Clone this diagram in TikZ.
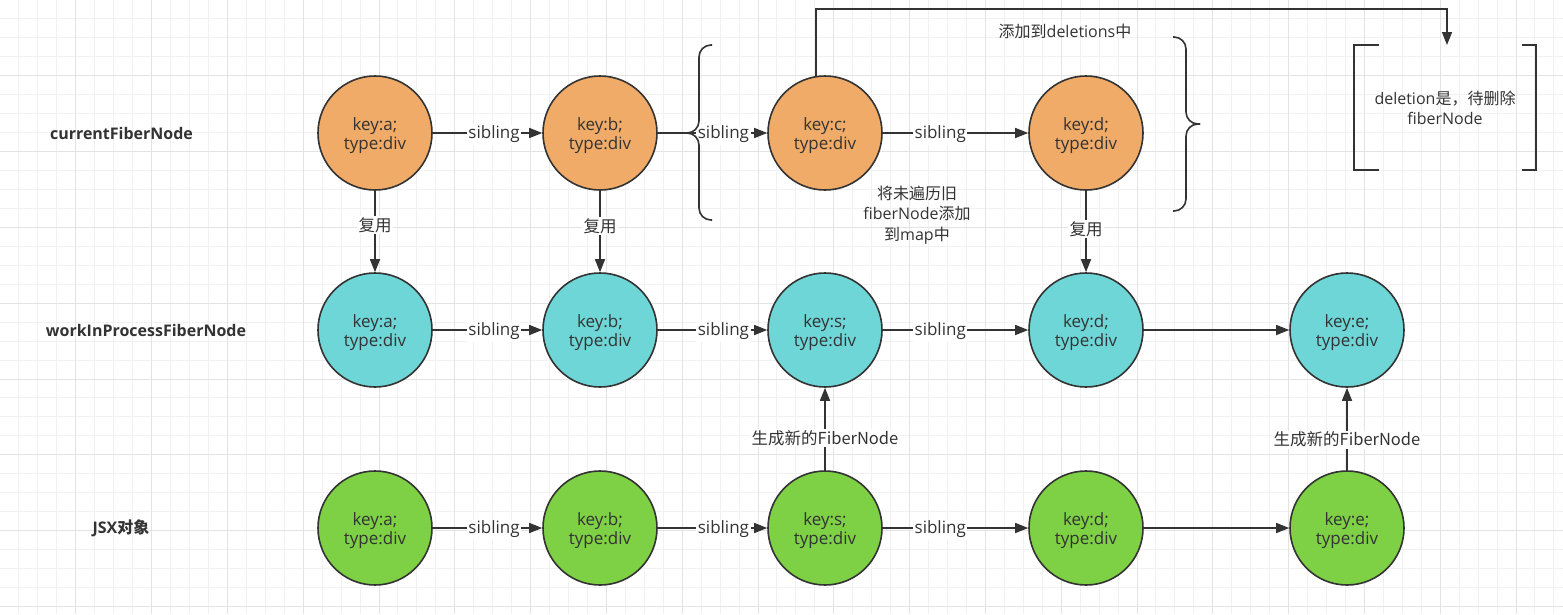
\documentclass[tikz,border=0pt]{standalone}
\usepackage{fontspec}
\setmainfont{Open Sans}
\newfontfamily\cjk{Noto Sans CJK SC}
\usetikzlibrary{arrows.meta}

\definecolor{orangeF}{RGB}{240,171,104}
\definecolor{cyanF}{RGB}{111,214,215}
\definecolor{greenF}{RGB}{126,208,69}
\definecolor{ink}{RGB}{51,51,51}
\definecolor{gridminor}{RGB}{241,241,241}
\definecolor{gridmajor}{RGB}{227,227,227}

\begin{document}
\begin{tikzpicture}[x=1pt,y=-1pt,
  fnode/.style={circle,draw=ink,line width=1.6pt,minimum size=114pt,inner sep=0pt},
  intext/.style={align=center,font=\fontsize{17}{19.5}\selectfont,text=ink,yshift=-2.5pt},
  orangenode/.style={fnode,fill=orangeF},
  cyannode/.style={fnode,fill=cyanF},
  greennode/.style={fnode,fill=greenF},
  arr/.style={draw=ink,line width=1.5pt,-{Triangle[length=13pt,width=10pt]}},
  lbl/.style={fill=white,inner sep=1.5pt,text=ink,font=\fontsize{17}{19}\selectfont,yshift=-1.5pt},
  cjklbl/.style={fill=white,inner sep=1.5pt,text=ink,font=\fontsize{16.5}{19}\selectfont\cjk},
  rowlbl/.style={text=ink,font=\fontsize{16}{18}\selectfont\bfseries},
  note/.style={text=ink,align=center,font=\fontsize{16}{20.5}\selectfont},
  bracestyle/.style={draw=ink,line width=1.6pt,rounded corners=12pt},
  bracketstyle/.style={draw=ink,line width=1.8pt}
]
\useasboundingbox (0,0) rectangle (1563,614);
\fill[white] (0,0) rectangle (1563,614);
% grid
\foreach \i in {1,...,82} {
  \draw[gridminor,line width=1pt] ({\i*18.95},0) -- ({\i*18.95},614);
}
\foreach \i in {1,...,32} {
  \draw[gridminor,line width=1pt] (0,{\i*18.95}) -- (1563,{\i*18.95});
}
\foreach \i in {1,...,20} {
  \draw[gridmajor,line width=1pt] ({\i*75.8},0) -- ({\i*75.8},614);
}
\foreach \i in {1,...,8} {
  \draw[gridmajor,line width=1pt] (0,{\i*75.8}) -- (1563,{\i*75.8});
}

% row labels
\node[rowlbl] (rl1) at (121.5,133) {currentFiberNode};
\node[rowlbl] (rl2) at (146,330) {workInProcessFiberNode};
\node[rowlbl] (rl3) at (121,528) {JSX{\cjk 对象}};

% current row
\node[orangenode,label={[intext]center:{key:a;\\type:div}}] (a1) at (375,133) {};
\node[orangenode,label={[intext]center:{key:b;\\type:div}}] (b1) at (600,133) {};
\node[orangenode,label={[intext]center:{key:c;\\type:div}}] (c1) at (825,133) {};
\node[orangenode,label={[intext]center:{key:d;\\type:div}}] (d1) at (1086,133) {};

% work in process row
\node[cyannode,label={[intext]center:{key:a;\\type:div}}] (a2) at (375,330) {};
\node[cyannode,label={[intext]center:{key:b;\\type:div}}] (b2) at (600,330) {};
\node[cyannode,label={[intext]center:{key:s;\\type:div}}] (s2) at (825,330) {};
\node[cyannode,label={[intext]center:{key:d;\\type:div}}] (d2) at (1086,330) {};
\node[cyannode,label={[intext]center:{key:e;\\type:div}}] (e2) at (1347,330) {};

% JSX row
\node[greennode,label={[intext]center:{key:a;\\type:div}}] (a3) at (375,528) {};
\node[greennode,label={[intext]center:{key:b;\\type:div}}] (b3) at (600,528) {};
\node[greennode,label={[intext]center:{key:s;\\type:div}}] (s3) at (825,528) {};
\node[greennode,label={[intext]center:{key:d;\\type:div}}] (d3) at (1086,528) {};
\node[greennode,label={[intext]center:{key:e;\\type:div}}] (e3) at (1347,528) {};

% sibling edges
\draw[arr] (a1) -- node[lbl,pos=0.56]{sibling} (b1);
\draw[arr] (b1) -- node[lbl,pos=0.6]{sibling} (c1);
\draw[arr] (c1) -- node[lbl,pos=0.395]{sibling} (d1);

\draw[arr] (a2) -- node[lbl,pos=0.56]{sibling} (b2);
\draw[arr] (b2) -- node[lbl,pos=0.6]{sibling} (s2);
\draw[arr] (s2) -- node[lbl,pos=0.395]{sibling} (d2);
\draw[arr] (d2) -- (e2);

\draw[arr] (a3) -- node[lbl,pos=0.56]{sibling} (b3);
\draw[arr] (b3) -- node[lbl,pos=0.6]{sibling} (s3);
\draw[arr] (s3) -- node[lbl,pos=0.395]{sibling} (d3);
\draw[arr] (d3) -- (e3);

% reuse edges
\draw[arr] (a1) -- node[cjklbl,pos=0.42]{复用} (a2);
\draw[arr] (b1) -- node[cjklbl,pos=0.43]{复用} (b2);
\draw[arr] (d1) -- node[cjklbl,pos=0.47]{复用} (d2);

% new fiber edges
\draw[arr] (s3) -- node[cjklbl,pos=0.39]{生成新的FiberNode} (s2);
\draw[arr] (e3) -- node[cjklbl,pos=0.37]{生成新的FiberNode} (e2);

% braces
\draw[bracestyle] (712,45) -- (699,45) -- (699,133) -- (686,133);
\draw[bracestyle] (686,133) -- (699,133) -- (699,220) -- (712,220);
\draw[bracestyle] (1173,37) -- (1186,37) -- (1186,124) -- (1200,124);
\draw[bracestyle] (1200,124) -- (1186,124) -- (1186,211) -- (1173,211);

% deletions bracket
\draw[bracketstyle] (1379,45) -- (1354,45) -- (1354,170) -- (1379,170);
\draw[bracketstyle] (1522,45) -- (1536,45) -- (1536,170) -- (1522,170);
\node[note] (deltext) at (1445,108) {deletion{\cjk 是，待删除}\\fiberNode};

% deletion connector
\coordinate (dtop) at (1447,9);
\coordinate (dend) at (1447,45);
\draw[arr] (c1.99) |- (dtop) -- (dend);

% notes
\node[note] (addnote) at (1065,31) {{\cjk 添加到}deletions{\cjk 中}};
\node[note] (mapnote) at (917,215) {{\cjk 将未遍历旧}\\fiberNode{\cjk 添加}\\{\cjk 到}map{\cjk 中}};
\end{tikzpicture}
\end{document}
